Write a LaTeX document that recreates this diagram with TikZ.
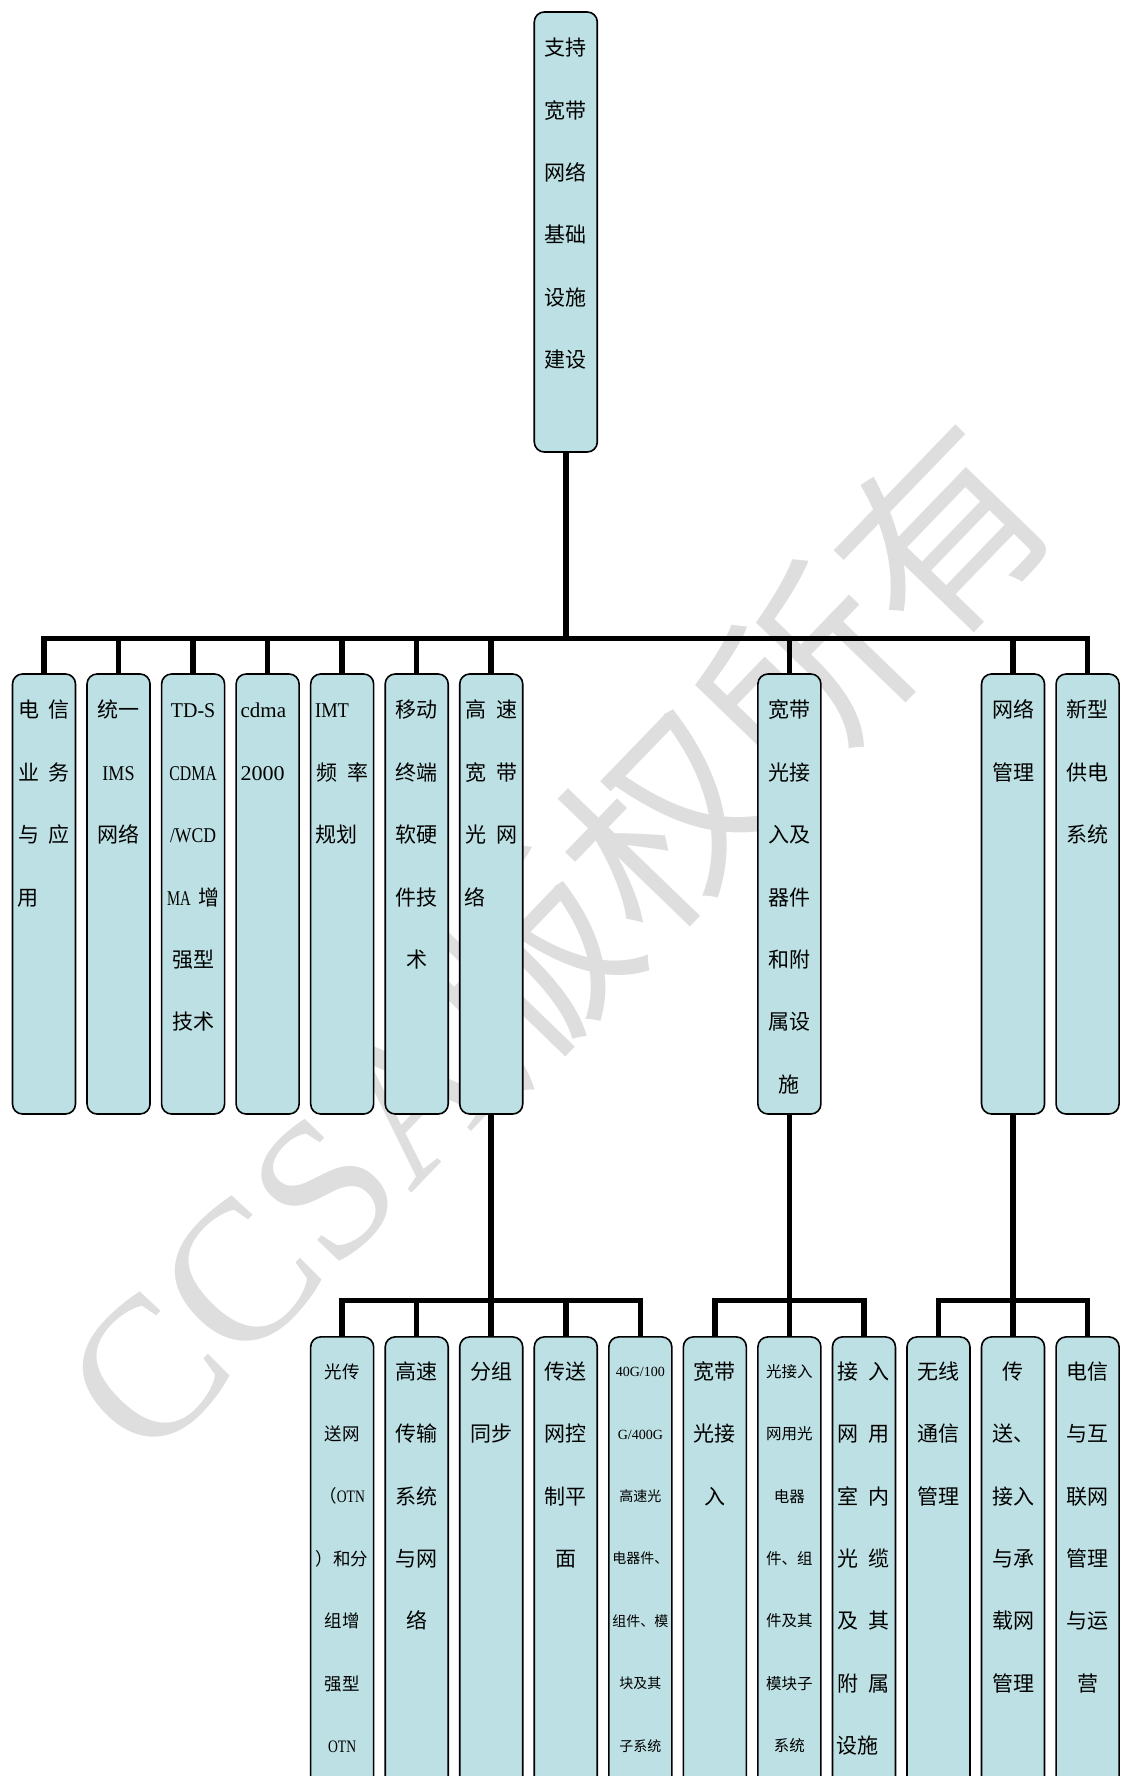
\documentclass[tikz,border=0pt]{standalone}
\usepackage{fontspec}
\usepackage{graphicx}
\usetikzlibrary{backgrounds}
\setmainfont{Noto Sans CJK SC}
\newfontfamily\latinfont{Liberation Serif}
\definecolor{boxfill}{RGB}{188,224,227}
\definecolor{wmgray}{RGB}{222,222,222}
\newcommand\lat[2]{\scalebox{#1}[1]{\latinfont #2}}
\newcommand\Sp[2]{\makebox[52pt]{#1\hfill #2}}
\newcommand\Lf[1]{\makebox[54pt][l]{#1}}
\newcommand\fA{\fontsize{21pt}{25pt}\selectfont}
\newcommand\fB{\fontsize{17.5pt}{21pt}\selectfont}
\newcommand\fC{\fontsize{14pt}{17pt}\selectfont}
\newcommand\fD{\fontsize{15.5pt}{19pt}\selectfont}
\newcommand\btext[5]{%
  \foreach \lntxt [count=\lnk] in {#5}{%
    \node[txt,font=#4] (#1-\lnk) at (#2,{#3+62.4*(\lnk-1)}) {\lntxt};}}
\tikzset{
  txt/.style={anchor=base,inner sep=0pt,outer sep=0pt},
  bx/.style={draw=black,line width=1.6pt,fill=boxfill,rounded corners=10pt,
    minimum width=63pt,inner sep=0pt},
  lvA/.style={bx,minimum height=440pt},
  lvC/.style={bx,minimum height=493pt},
  conn/.style={draw=black,line width=5.5pt}
}
\begin{document}
\begin{tikzpicture}[x=1pt,y=-1pt]
\useasboundingbox (0,0) rectangle (1120,1776);
\clip (0,0) rectangle (1120,1776);
% boxes
\node[lvA] (top) at (565.78,232) {};
\node[lvA] (a0) at (44,894) {};
\node[lvA] (a1) at (118.54,894) {};
\node[lvA] (a2) at (193.08,894) {};
\node[lvA] (a3) at (267.62,894) {};
\node[lvA] (a4) at (342.16,894) {};
\node[lvA] (a5) at (416.7,894) {};
\node[lvA] (a6) at (491.24,894) {};
\node[lvA] (a10) at (789.4,894) {};
\node[lvA] (a13) at (1013.02,894) {};
\node[lvA] (a14) at (1087.56,894) {};
\node[lvC] (c4) at (342.16,1583.4) {};
\node[lvC] (c5) at (416.7,1583.4) {};
\node[lvC] (c6) at (491.24,1583.4) {};
\node[lvC] (c7) at (565.78,1583.4) {};
\node[lvC] (c8) at (640.32,1583.4) {};
\node[lvC] (c9) at (714.86,1583.4) {};
\node[lvC] (c10) at (789.4,1583.4) {};
\node[lvC] (c11) at (863.94,1583.4) {};
\node[lvC] (c12) at (938.48,1583.4) {};
\node[lvC] (c13) at (1013.02,1583.4) {};
\node[lvC] (c14) at (1087.56,1583.4) {};
\coordinate (b1) at (0,638.5);
\coordinate (b2) at (0,1300.5);
% background: white, watermark, connectors
\begin{scope}[on background layer]
\fill[white] (0,0) rectangle (1120,1776);
\node[rotate=46,text=wmgray,inner sep=0pt,font=\fontsize{200pt}{220pt}\selectfont] (wmark) at (553,938) {{\latinfont CCSA}版权所有};
\foreach \ch in {a0,a1,a2,a3,a4,a5,a6,a10,a13,a14}
  \draw[conn] (top.south) -- (top.south |- b1) -| (\ch.north);
\foreach \ch in {c4,c5,c6,c7,c8}
  \draw[conn] (a6.south) -- (a6.south |- b2) -| (\ch.north);
\foreach \ch in {c9,c10,c11}
  \draw[conn] (a10.south) -- (a10.south |- b2) -| (\ch.north);
\foreach \ch in {c12,c13,c14}
  \draw[conn] (a13.south) -- (a13.south |- b2) -| (\ch.north);
\end{scope}
% texts
\btext{ttop}{565.78}{55.8}{\fA}{支持,宽带,网络,基础,设施,建设}
\btext{ta0}{44}{717.8}{\fA}{{\Sp{电}{信}},{\Sp{业}{务}},{\Sp{与}{应}},{\Lf{用}}}
\btext{ta1}{118.54}{717.8}{\fA}{统一,{\lat{0.86}{IMS}},网络}
\btext{ta2}{193.08}{717.8}{\fA}{{\lat{0.95}{TD-S}},{\lat{0.75}{CDMA}},{\lat{0.84}{/WCD}},{\Sp{\lat{0.7}{MA}}{增}},强型,技术}
\btext{ta3}{267.62}{717.8}{\fA}{{\Lf{\lat{1}{cdma}}},{\Lf{\lat{1.05}{2000}}}}
\btext{ta4}{342.16}{717.8}{\fA}{{\Lf{\lat{0.88}{IMT}}},{\Sp{频}{率}},{\Lf{规划}}}
\btext{ta5}{416.7}{717.8}{\fA}{移动,终端,软硬,件技,术}
\btext{ta6}{491.24}{717.8}{\fA}{{\Sp{高}{速}},{\Sp{宽}{带}},{\Sp{光}{网}},{\Lf{络}}}
\btext{ta10}{789.4}{717.8}{\fA}{宽带,光接,入及,器件,和附,属设,施}
\btext{ta13}{1013.02}{717.8}{\fA}{网络,管理}
\btext{ta14}{1087.56}{717.8}{\fA}{新型,供电,系统}
\btext{tc4}{342.16}{1378}{\fB}{光传,送网,{（\lat{0.78}{OTN}},）和分,组增,强型,{\lat{0.78}{OTN}}}
\btext{tc5}{416.7}{1379.3}{\fA}{高速,传输,系统,与网,络}
\btext{tc6}{491.24}{1379.3}{\fA}{分组,同步}
\btext{tc7}{565.78}{1379.3}{\fA}{传送,网控,制平,面}
\btext{tc8}{640.32}{1376.7}{\fC}{{\lat{1}{40G/100}},{\lat{1}{G/400G}},高速光,电器件、,组件、模,块及其,子系统}
\btext{tc9}{714.86}{1379.3}{\fA}{宽带,光接,入}
\btext{tc10}{789.4}{1377.2}{\fD}{光接入,网用光,电器,件、组,件及其,模块子,系统}
\btext{tc11}{863.94}{1379.3}{\fA}{{\Sp{接}{入}},{\Sp{网}{用}},{\Sp{室}{内}},{\Sp{光}{缆}},{\Sp{及}{其}},{\Sp{附}{属}},{\Lf{设施}}}
\btext{tc12}{938.48}{1379.3}{\fA}{无线,通信,管理}
\btext{tc13}{1013.02}{1379.3}{\fA}{传,送、,接入,与承,载网,管理}
\btext{tc14}{1087.56}{1379.3}{\fA}{电信,与互,联网,管理,与运,营}
\end{tikzpicture}
\end{document}
